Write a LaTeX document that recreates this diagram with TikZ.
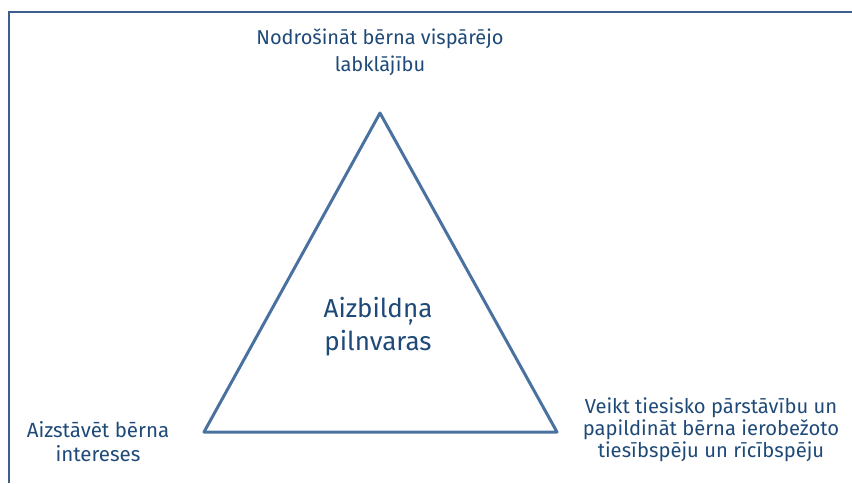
\documentclass[tikz,border=0pt]{standalone}
\usepackage{fontspec}
\setmainfont{Fira Sans}
\definecolor{txtblue}{HTML}{1F4A78}
\definecolor{triblue}{HTML}{4A72A0}
\definecolor{frameblue}{HTML}{3E5F8E}
\begin{document}
\begin{tikzpicture}[x=1pt,y=-1pt,
  lbl/.style={text=txtblue, align=center, inner sep=0pt, anchor=base},
  tri/.style={draw=triblue, line width=3pt, line join=round},
  frame/.style={draw=frameblue, line width=1.5pt}]
\useasboundingbox (0,0) rectangle (852,483);
\coordinate (fa) at (852,12);
\coordinate (fb) at (9,12);
\coordinate (fc) at (9,483);
\draw[frame] (fa) -- (fb) -- (fc);
\coordinate (apex) at (380,113);
\coordinate (bl) at (204,432);
\coordinate (br) at (557,432);
\draw[tri] (apex) -- (bl) -- (br) -- cycle;
\node[lbl, font=\fontsize{20}{27}\selectfont] (top) at (380,71.7) {Nodrošināt bērna vispārējo\\labklājību};
\node[lbl, font=\fontsize{26}{33}\selectfont] (mid) at (378,350) {Aizbildņa\\pilnvaras};
\node[lbl, font=\fontsize{20.5}{24.5}\selectfont] (left) at (98,461.7) {Aizstāvēt bērna\\intereses};
\node[lbl, font=\fontsize{20.2}{22.2}\selectfont] (right) at (711,457.7) {Veikt tiesisko pārstāvību un\\papildināt bērna ierobežoto\\tiesībspēju un rīcībspēju};
\end{tikzpicture}
\end{document}
